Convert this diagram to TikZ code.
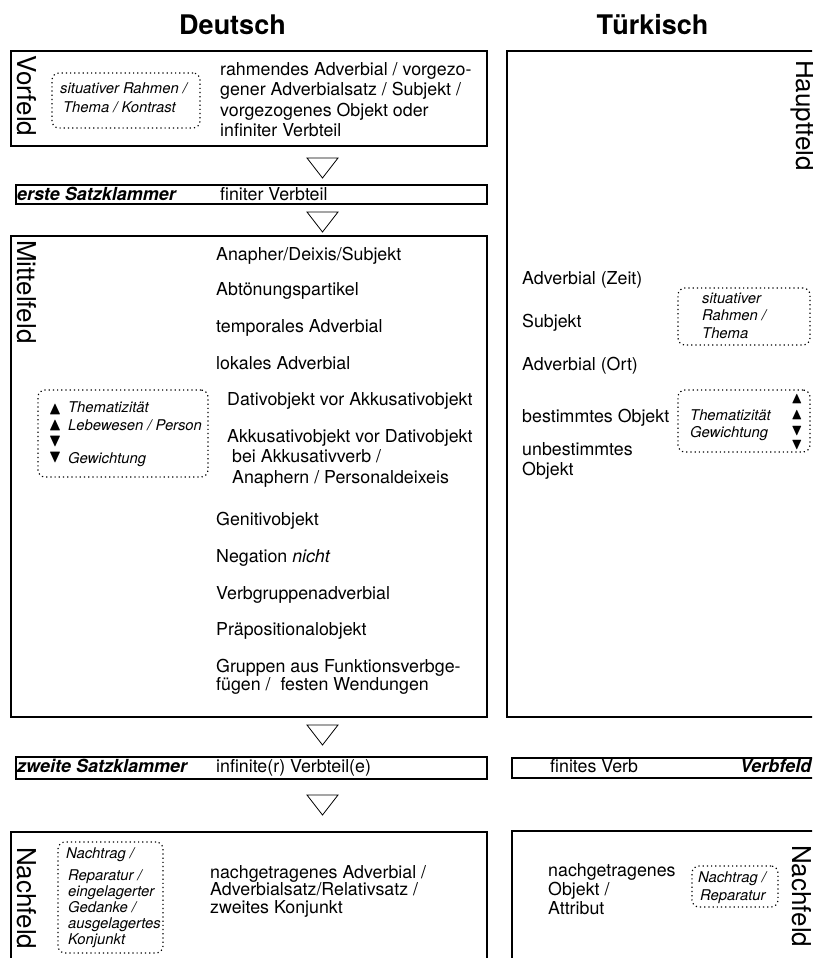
\documentclass[tikz,border=0pt]{standalone}
\usepackage{fontspec}
\setmainfont{TeX Gyre Heros}
\usepackage{amssymb}
\begin{document}
\begin{tikzpicture}[
            x=1pt, y=-1pt,
            feld/.style={draw, line width=1.3pt, inner sep=0pt, outer sep=0pt, anchor=north west},
            dots/.style={draw, line width=1.2pt, dash pattern=on 1.2pt off 3pt, rounded corners=7pt, inner sep=0pt, outer sep=0pt, anchor=north west},
            txt/.style={anchor=base west, align=left, inner sep=0pt, font=\fontsize{17.8}{20.5}\selectfont},
            klein/.style={anchor=base west, align=left, inner sep=0pt, font=\fontsize{14.8}{17}\selectfont\itshape},
            pfeil/.style={anchor=base, inner sep=0pt, font=\fontsize{18}{20}\selectfont},
            klam/.style={anchor=base west, inner sep=0pt, font=\fontsize{18}{20}\selectfont\bfseries\itshape},
            lbl/.style={rotate=-90, anchor=west, inner sep=0pt, font=\fontsize{26}{28}\selectfont},
            kopf/.style={anchor=base, inner sep=0pt, font=\fontsize{27}{30}\selectfont\bfseries},
            tri/.style={line width=0.8pt}
        ]
           \useasboundingbox (0,0) rectangle (812,958);
           \clip (0,0) rectangle (812,958);

           % Kopfzeilen
           \node[kopf] (de) at (232.5,35) {Deutsch};
           \node[kopf] (tr) at (652.5,35) {Türkisch};

           % Deutsch (mehrzeilige Knoten: Basis = letzte Zeile)
           \node[feld, minimum width=476, minimum height=95] (vorfeld) at (11,51) {};
           \node[lbl] (vorlbl) at (27,55) {Vorfeld};
           \node[dots, minimum width=148, minimum height=55] (vordots) at (52,73) {};
           \node[klein] (vorthema) at (60,93) {situativer Rahmen /};
           \node[klein] (vorthemaII) at (63,112) {Thema / Kontrast};
           \node[txt] (vortxt) at (220,136.5) {rahmendes Adverbial / vorgezo-\\gener Adverbialsatz / Subjekt /\\vorgezogenes Objekt oder\\infiniter Verbteil};

           \node[feld, minimum width=471, minimum height=19] (klammerI) at (16,185) {};
           \node[klam] (klammerIlbl) at (17,200) {erste Satzklammer};
           \node[txt] (klammerItxt) at (220,200) {finiter Verbteil};

           \node[feld, minimum width=476, minimum height=481] (mittelfeld) at (11,236) {};
           \node[lbl] (mittellbl) at (27,240) {Mittelfeld};
           \node[dots, minimum width=170, minimum height=87] (mitteldots) at (38,390) {};
           \node[pfeil] (pfI) at (55,414) {$\blacktriangle$};
           \node[pfeil] (pfII) at (55,430) {$\blacktriangle$};
           \node[pfeil] (pfIII) at (55,446) {$\blacktriangledown$};
           \node[pfeil] (pfIV) at (55,462) {$\blacktriangledown$};
           \node[klein] (them) at (68,412) {Thematizität};
           \node[klein] (lebw) at (68,430) {Lebewesen / Person};
           \node[klein] (gew) at (68,463) {Gewichtung};

           \node[txt] (m1) at (216,260) {Anapher/Deixis/Subjekt};
           \node[txt] (m2) at (216,295) {Abtönungspartikel};
           \node[txt] (m3) at (216,332) {temporales Adverbial};
           \node[txt] (m4) at (216,369) {lokales Adverbial};
           \node[txt] (m5) at (227,405) {Dativobjekt vor Akkusativobjekt};
           \node[txt] (m6) at (227,483) {Akkusativobjekt vor Dativobjekt\\\hspace*{5pt}bei Akkusativverb /\\\hspace*{5pt}Anaphern / Personaldeixeis};
           \node[txt] (m7) at (216,525) {Genitivobjekt};
           \node[txt] (m8) at (216,562) {Negation \textit{nicht}};
           \node[txt] (m9) at (216,599) {Verbgruppenadverbial};
           \node[txt] (m10) at (216,635) {Präpositionalobjekt};
           \node[txt, font=\fontsize{17.8}{18.5}\selectfont] (m11) at (216,690.5) {Gruppen aus Funktionsverbge-\\fügen / \ festen Wendungen};

           \node[feld, minimum width=471, minimum height=22] (klammerII) at (16,757) {};
           \node[klam] (klammerIIlbl) at (17,772) {zweite Satzklammer};
           \node[txt] (klammerIItxt) at (216,772) {infinite(r) Verbteil(e)};

           \node[feld, minimum width=476, minimum height=140] (nachde) at (11,832) {};
           \node[lbl] (nachdelbl) at (27,847) {Nachfeld};
           \node[dots, minimum width=105, minimum height=111] (nachdedots) at (58,842) {};
           \node[klein] (nachtrag) at (66,858) {Nachtrag /};
           \node[klein, font=\fontsize{14.8}{16}\selectfont\itshape] (reparatur) at (68,944) {Reparatur /\\eingelagerter\\Gedanke /\\ausgelagertes\\Konjunkt};
           \node[txt, font=\fontsize{17.8}{17.5}\selectfont] (nachdetxt) at (210,913) {nachgetragenes Adverbial /\\Adverbialsatz/Relativsatz /\\zweites Konjunkt};

           \foreach \ty in {158,212,725,795}
              \draw[tri] (307,\ty) -- (338,\ty) -- (322.5,\ty+20) -- cycle;

           % Tuerkisch
           \node[feld, minimum width=330, minimum height=666] (hauptfeld) at (507,51) {};
           \node[lbl] (hauptlbl) at (803,60) {Hauptfeld};
           \node[txt] (t1) at (522,284) {Adverbial (Zeit)};
           \node[txt] (t2) at (522,327) {Subjekt};
           \node[txt] (t3) at (522,370) {Adverbial (Ort)};
           \node[txt] (t4) at (522,422) {bestimmtes Objekt};
           \node[txt, font=\fontsize{17.8}{20}\selectfont] (t5) at (522,475) {unbestimmtes\\Objekt};
           \node[dots, minimum width=132, minimum height=57] (rahmendots) at (678,288) {};
           \node[klein, font=\fontsize{14.8}{17.5}\selectfont\itshape] (rahmen) at (702,338) {situativer\\Rahmen /\\Thema};
           \node[dots, minimum width=132, minimum height=62] (themadots) at (678,390) {};
           \node[klein] (themtr) at (690,437) {Thematizität\\Gewichtung};
           \node[pfeil, font=\fontsize{16}{18}\selectfont] (tpI) at (797,403) {$\blacktriangle$};
           \node[pfeil, font=\fontsize{16}{18}\selectfont] (tpII) at (797,419) {$\blacktriangle$};
           \node[pfeil, font=\fontsize{16}{18}\selectfont] (tpIII) at (797,435) {$\blacktriangledown$};
           \node[pfeil, font=\fontsize{16}{18}\selectfont] (tpIV) at (797,449) {$\blacktriangledown$};

           \node[feld, minimum width=320, minimum height=20] (verbfeld) at (512,758) {};
           \node[txt] (verbtxt) at (550,772) {finites Verb};
           \node[klam] (verblbl) at (740,772) {Verbfeld};

           \node[feld, minimum width=320, minimum height=140] (nachtr) at (512,831) {};
           \node[lbl] (nachtrlbl) at (802,845) {Nachfeld};
           \node[txt, font=\fontsize{17.8}{19}\selectfont] (nachtrtxt) at (548,914) {nachgetragenes\\Objekt /\\Attribut};
           \node[dots, minimum width=86, minimum height=41] (nachtrdots) at (692,866) {};
           \node[klein, font=\fontsize{14.8}{18}\selectfont\itshape] (nachtrrep) at (698,900) {Nachtrag /\\\hspace*{2pt}Reparatur};
        \end{tikzpicture}
\end{document}
